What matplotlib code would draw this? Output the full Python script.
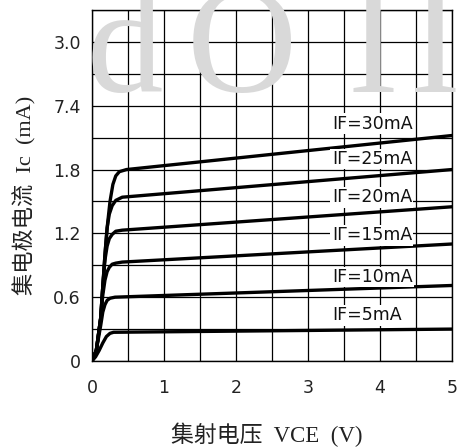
import matplotlib
matplotlib.use("Agg")
import matplotlib.pyplot as plt
import numpy as np

# ---- data ----
curve_labels = ["IF=30mA", "IΓ=25mA", "IΓ=20mA", "IΓ=15mA", "IF=10mA", "IF=5mA"]
x_30 = [0, 0.06, 0.12, 0.15, 0.18, 0.21, 0.25, 0.29, 0.33, 0.38, 0.48, 5.0]
y_30 = [0, 0.10, 0.40, 0.70, 1.00, 1.25, 1.50, 1.66, 1.74, 1.78, 1.80, 2.12]
x_25 = [0, 0.06, 0.12, 0.15, 0.18, 0.21, 0.24, 0.28, 0.33, 0.42, 5.0]
y_25 = [0, 0.10, 0.40, 0.70, 1.00, 1.25, 1.38, 1.46, 1.51, 1.54, 1.80]
x_20 = [0, 0.06, 0.12, 0.15, 0.18, 0.21, 0.24, 0.28, 0.33, 0.42, 5.0]
y_20 = [0, 0.10, 0.40, 0.70, 0.95, 1.08, 1.15, 1.19, 1.22, 1.23, 1.45]
x_15 = [0, 0.06, 0.12, 0.15, 0.18, 0.21, 0.24, 0.28, 0.33, 0.42, 5.0]
y_15 = [0, 0.10, 0.40, 0.62, 0.76, 0.84, 0.88, 0.91, 0.92, 0.93, 1.10]
x_10 = [0, 0.06, 0.12, 0.15, 0.18, 0.21, 0.25, 0.32, 5.0]
y_10 = [0, 0.10, 0.33, 0.46, 0.53, 0.57, 0.59, 0.60, 0.71]
x_5 = [0, 0.05, 0.10, 0.15, 0.20, 0.25, 0.30, 5.0]
y_5 = [0, 0.04, 0.10, 0.17, 0.23, 0.26, 0.27, 0.30]
label_x = [3.33, 3.33, 3.33, 3.33, 3.33, 3.33]
label_y = [2.23, 1.90, 1.54, 1.18, 0.79, 0.43]

y_ticks = [0, 0.6, 1.2, 1.8, 2.4, 3.0]
y_ticklabels = ["0", "0.6", "1.2", "1.8", "7.4", "3.0"]
x_ticks = [0, 1, 2, 3, 4, 5]
x_ticklabels = ["0", "1", "2", "3", "4", "5"]

xs = [x_30, x_25, x_20, x_15, x_10, x_5]
ys = [y_30, y_25, y_20, y_15, y_10, y_5]

W, H = 457, 448
fig = plt.figure(figsize=(W / 100, H / 100), dpi=100)
fig.patch.set_facecolor("white")

# watermark letters (behind the chart)
wm_letters = ["d", "O", "I", "I"]
wm_cx = [125, 242, 373, 435]
for ch, cx in zip(wm_letters, wm_cx):
    fig.text(cx / W, 1 - 92 / H, ch, family="Liberation Serif", fontsize=110,
             color="#d9d9d9", ha="center", va="baseline", zorder=0)

ax = fig.add_axes([92 / W, 1 - 361 / H, 360 / W, 351 / H])
ax.patch.set_alpha(0)
ax.set_xlim(0, 5)
ax.set_ylim(0, 3.3)
ax.set_xticks(x_ticks)
ax.set_xticklabels(x_ticklabels)
ax.set_yticks(y_ticks)
ax.set_yticklabels(y_ticklabels)
ax.set_xticks(np.arange(0.5, 5.0, 1.0), minor=True)
ax.set_yticks(np.arange(0.3, 3.31, 0.6), minor=True)
ax.grid(which="both", color="black", lw=0.9)
ax.set_axisbelow(True)
ax.tick_params(which="both", length=0)
ax.tick_params(axis="y", pad=8, labelsize=12.5, labelcolor="#222222")
ax.tick_params(axis="x", pad=13, labelsize=12.5, labelcolor="#222222")
for sp in ax.spines.values():
    sp.set_linewidth(1.0)

for x, y in zip(xs, ys):
    ax.plot(x, y, color="black", lw=2.4, solid_capstyle="round",
            solid_joinstyle="round", zorder=3)

for lx, ly, lab in zip(label_x, label_y, curve_labels):
    ax.text(lx, ly, lab, fontsize=12.5, color="#111111", ha="left", va="center",
            zorder=4, bbox=dict(facecolor="white", edgecolor="none", pad=1.0))

fam = ["Liberation Serif", "Noto Sans CJK SC"]
fig.text(267 / W, 1 - 435 / H, "集射电压  VCE  (V)", family=fam, fontsize=16.5,
         ha="center", va="center", color="#222222")
fig.text(25 / W, 1 - 195 / H, "集电极电流  Ic  (mA)", family=fam, fontsize=16,
         ha="center", va="center", rotation=90, color="#222222")

fig.savefig("out.png", dpi=100, facecolor="white")
